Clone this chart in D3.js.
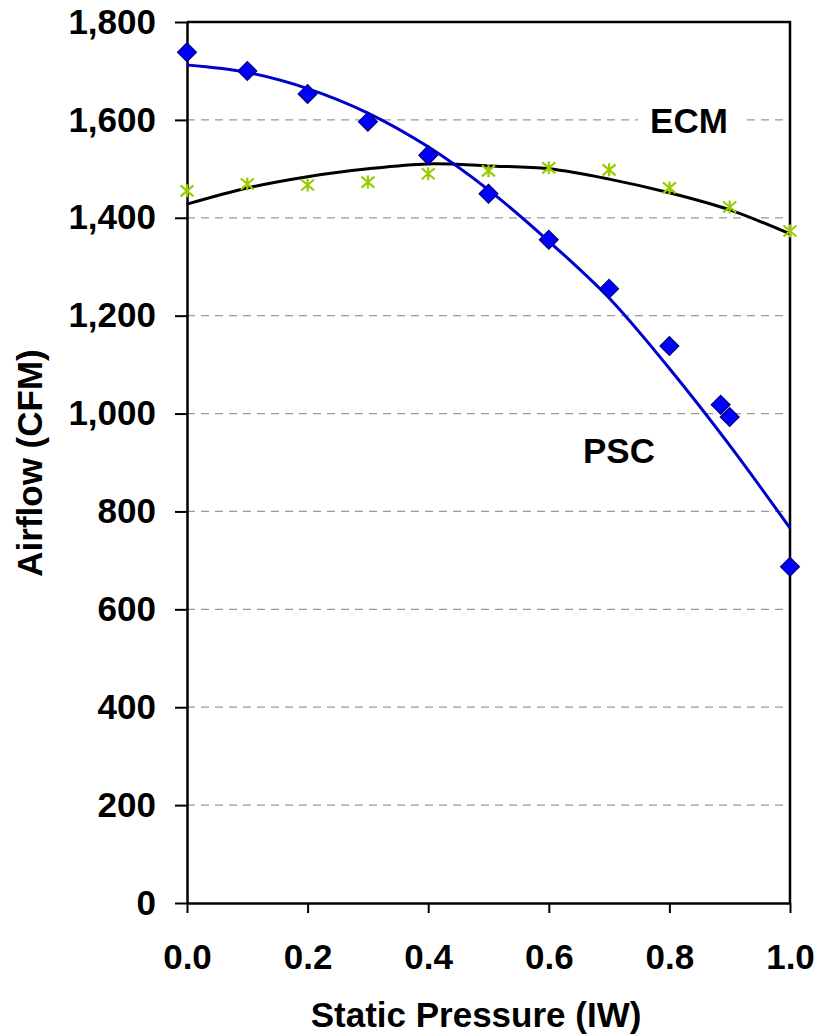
<!DOCTYPE html>
<html>
<head>
<meta charset="utf-8">
<script src="https://cdn.jsdelivr.net/npm/d3@7"></script>
<style>
  body { margin: 0; background: #fff; }
  text { font-family: "Liberation Sans", Arial, sans-serif; font-weight: bold; }
</style>
</head>
<body>
<div id="graph"></div>
<script>
// measured points, static pressure (IW) vs airflow (CFM)
var pscX = [0.0, 0.1, 0.2, 0.3, 0.4, 0.5, 0.6, 0.7, 0.8, 0.885, 0.9, 1.0];
var pscY = [1738, 1700, 1653, 1596, 1528, 1449, 1355, 1255, 1138, 1018, 993, 687];

var ecmX = [0.0, 0.1, 0.2, 0.3, 0.4, 0.5, 0.6, 0.7, 0.8, 0.9, 1.0];
var ecmY = [1455, 1469, 1467, 1473, 1490, 1496, 1502, 1498, 1461, 1422, 1373];

// trend lines
var trendX = [0.0, 0.1, 0.2, 0.3, 0.4, 0.5, 0.6, 0.7, 0.8, 0.9, 1.0];
var pscTrend = [1712, 1697, 1664, 1614, 1545, 1457, 1352, 1236, 1092, 935, 766];
var ecmTrend = [1428, 1461, 1484, 1500, 1510, 1506, 1500, 1479, 1451, 1416, 1367];

var yTicks = [0, 200, 400, 600, 800, 1000, 1200, 1400, 1600, 1800];
var xTicks = [0.0, 0.2, 0.4, 0.6, 0.8, 1.0];

drawChart();

function drawChart() {
    var width = 819;
    var height = 1036;
    var left = 187, right = 790, top = 22, bottom = 903;

    var svg = d3.select('#graph').append('svg')
        .attr('width', width)
        .attr('height', height);

    var x = d3.scaleLinear().domain([0, 1]).range([left, right]);
    var y = d3.scaleLinear().domain([0, 1800]).range([bottom, top]);

    // dashed gridlines
    svg.append('g').selectAll('line.grid')
        .data(yTicks.filter(function(d) { return d > 0 && d < 1800; }))
        .enter().append('line')
        .attr('x1', left).attr('x2', right)
        .attr('y1', function(d) { return y(d); })
        .attr('y2', function(d) { return y(d); })
        .attr('stroke', '#999')
        .attr('stroke-width', 1.3)
        .attr('stroke-dasharray', '8,6');

    // axes
    var yAxis = svg.append('g')
        .attr('transform', 'translate(' + left + ',0)')
        .call(d3.axisLeft(y).tickValues(yTicks).tickFormat(d3.format(','))
            .tickSize(12).tickPadding(19).tickSizeOuter(0));
    var xAxis = svg.append('g')
        .attr('transform', 'translate(0,' + bottom + ')')
        .call(d3.axisBottom(x).tickValues(xTicks).tickFormat(d3.format('.1f'))
            .tickSize(10).tickPadding(31).tickSizeOuter(0));

    [yAxis, xAxis].forEach(function(a) {
        a.select('.domain').attr('stroke', '#000').attr('stroke-width', 2.5);
        a.selectAll('.tick line').attr('stroke', '#000').attr('stroke-width', 2);
        a.selectAll('.tick text').attr('fill', '#000')
            .style('font-size', '35px').style('font-family', '"Liberation Sans", Arial, sans-serif')
            .style('font-weight', 'bold');
    });

    // top and right border of plot area
    svg.append('path')
        .attr('d', 'M' + left + ',' + top + 'H' + right + 'V' + bottom)
        .attr('fill', 'none')
        .attr('stroke', '#000')
        .attr('stroke-width', 2.5);

    // ECM label with white box over the gridline
    svg.append('rect')
        .attr('x', 638).attr('y', 100).attr('width', 107).attr('height', 40)
        .attr('fill', '#fff');
    svg.append('text')
        .attr('x', 689).attr('y', 133)
        .attr('text-anchor', 'middle')
        .style('font-size', '35px')
        .text('ECM');
    svg.append('text')
        .attr('x', 619).attr('y', 463)
        .attr('text-anchor', 'middle')
        .style('font-size', '35px')
        .text('PSC');

    // trend lines
    var line = d3.line()
        .x(function(d) { return x(d[0]); })
        .y(function(d) { return y(d[1]); })
        .curve(d3.curveCatmullRom);

    svg.append('path')
        .attr('d', line(d3.zip(trendX, ecmTrend)))
        .attr('fill', 'none')
        .attr('stroke', '#000')
        .attr('stroke-width', 3);
    svg.append('path')
        .attr('d', line(d3.zip(trendX, pscTrend)))
        .attr('fill', 'none')
        .attr('stroke', '#0000CC')
        .attr('stroke-width', 3);

    // ECM asterisks
    var star = 'M0,-6.5V6.5M-6.5,-5.5L6.5,5.5M-6.5,5.5L6.5,-5.5';
    svg.append('g').selectAll('path.star')
        .data(d3.zip(ecmX, ecmY))
        .enter().append('path')
        .attr('transform', function(d) { return 'translate(' + x(d[0]) + ',' + y(d[1]) + ')'; })
        .attr('d', star)
        .attr('fill', 'none')
        .attr('stroke', '#99CC00')
        .attr('stroke-width', 2.2);

    // PSC diamonds
    var diamond = d3.symbol().type(d3.symbolSquare).size(175);
    svg.append('g').selectAll('path.diamond')
        .data(d3.zip(pscX, pscY))
        .enter().append('path')
        .attr('transform', function(d) { return 'translate(' + x(d[0]) + ',' + y(d[1]) + ') rotate(45)'; })
        .attr('d', diamond)
        .attr('fill', '#0000FF')
        .attr('stroke', '#000080')
        .attr('stroke-width', 1.3);

    // axis titles
    svg.append('text')
        .attr('x', 476).attr('y', 1027)
        .attr('text-anchor', 'middle')
        .style('font-size', '35px')
        .text('Static Pressure (IW)');
    svg.append('text')
        .attr('transform', 'translate(42,463) rotate(-90)')
        .attr('text-anchor', 'middle')
        .style('font-size', '35px')
        .text('Airflow (CFM)');
}
</script>
</body>
</html>
